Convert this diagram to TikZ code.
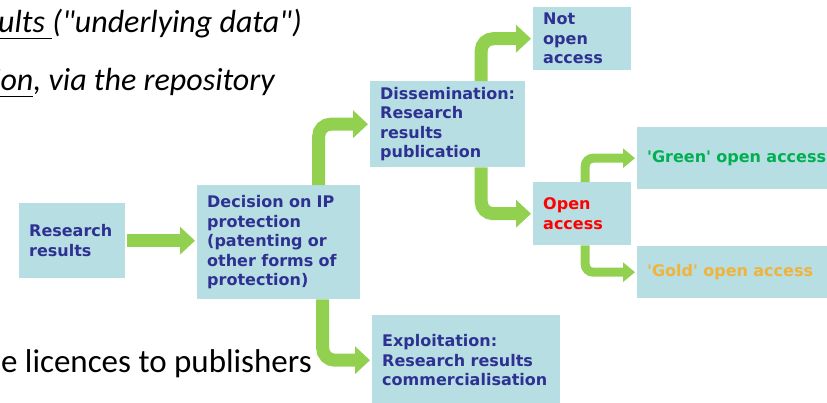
\documentclass[tikz,border=0pt]{standalone}
\usepackage{fontspec}
\usepackage{xcolor}
\setmainfont{Carlito}[Ligatures=TeXOff]
\newfontfamily\boxfont{DejaVu Sans}
\usetikzlibrary{arrows.meta,positioning,calc}

\definecolor{boxfill}{HTML}{B7DEE2}
\definecolor{flowgreen}{HTML}{92D050}
\definecolor{navy}{HTML}{2E3192}
\definecolor{oagreen}{HTML}{00B050}
\definecolor{oagold}{HTML}{F0B33C}

\begin{document}
\begin{tikzpicture}[x=1pt, y=-1pt,
    box/.style={fill=boxfill, anchor=north west, inner xsep=10pt, inner ysep=0pt,
        align=left, text=navy, font=\boxfont\bfseries\fontsize{16}{19.5}\selectfont},
    flow/.style={draw=flowgreen, line width=13pt, rounded corners=12pt,
        -{Triangle[width=27pt,length=15pt]}, shorten >=2pt},
    thinflow/.style={flow, line width=9pt, rounded corners=8pt,
        -{Triangle[width=19pt,length=12pt]}},
    bgtext/.style={inner sep=0pt, anchor=base east, font=\fontsize{32}{38}\selectfont}]
    \clip (0,0) rectangle (827,402);

    % Slide text behind the chart
    \node[bgtext] (lineA) at (302,32) {\itshape\underline{\vphantom{(}ults\ }("underlying data")};
    \node[bgtext] (lineB) at (275,90) {\itshape\underline{\vphantom{(}ion}, via the repository};
    \node[bgtext, font=\fontsize{33}{40}\selectfont] (lineC) at (312,372) {e licences to publishers};

    % Boxes
    \node[box, text width=86pt, minimum height=75pt] (res) at (19,203) {Research\\results};
    \node[box, text width=143pt, minimum height=114pt] (dec) at (197,185)
        {Decision on IP\\protection\\(patenting or\\other forms of\\protection)};
    \node[box, text width=135pt, minimum height=86pt] (dis) at (370,81)
        {Dissemination:\\Research\\results\\publication};
    \node[box, text width=168pt, minimum height=90pt] (exp) at (372,315)
        {Exploitation:\\Research results\\commercialisation};
    \node[box, text width=78pt, minimum height=63pt] (notoa) at (533,7) {Not\\open\\access};
    \node[box, text width=78pt, minimum height=63pt, text=red] (oa) at (533,182) {Open\\access};
    \node[box, text width=180pt, minimum height=62pt, text=oagreen] (green) at (637,127) {'Green' open access};
    \node[box, text width=180pt, minimum height=52pt, text=oagold] (gold) at (637,246) {'Gold' open access};

    % Arrows
    \draw[flow, shorten <=2pt] (res.east) -- (res.east -| dec.west);
    \draw[flow] ([xshift=40pt]dec.north) |- (dis.west);
    \draw[flow] ([xshift=44pt]dec.south) |- (exp.west);
    \draw[flow] ([xshift=33.5pt]dis.north) |- (notoa.west);
    \draw[flow] ([xshift=33.5pt]dis.south) |- (oa.west);
    \draw[thinflow] ([xshift=3pt]oa.north) |- (green.west);
    \draw[thinflow] ([xshift=3pt]oa.south) |- (gold.west);
\end{tikzpicture}
\end{document}
